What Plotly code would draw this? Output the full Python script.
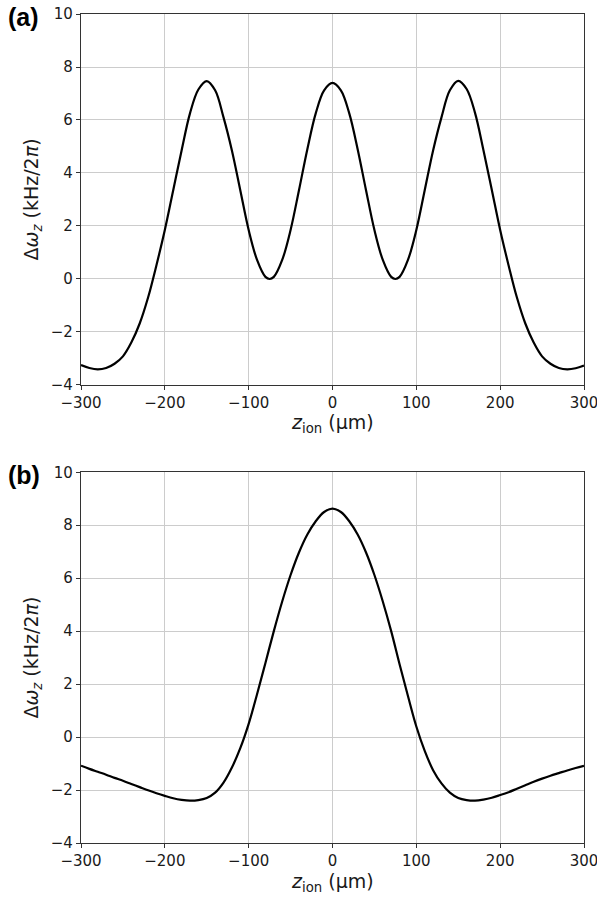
import plotly.graph_objects as go

# Axial frequency shift versus ion position, two electrode configurations
z_a = [
    -300, -290, -280, -270, -260, -250, -240, -230, -220, -210,
    -200, -190, -180, -170, -160, -150, -140, -130, -120, -110,
    -100, -90, -80, -75, -70, -60, -50, -40, -30, -20, -10,
    0,
    10, 20, 30, 40, 50, 60, 70, 75, 80, 90, 100,
    110, 120, 130, 140, 150, 160, 170, 180, 190, 200,
    210, 220, 230, 240, 250, 260, 270, 280, 290, 300,
]
shift_a = [
    -3.25, -3.36, -3.41, -3.36, -3.20, -2.92, -2.40, -1.68, -0.70, 0.52,
    1.85, 3.35, 4.85, 6.25, 7.15, 7.47, 7.12, 6.10, 4.85, 3.35,
    1.85, 0.72, 0.08, 0.0, 0.08, 0.72, 1.85, 3.35, 4.90, 6.25, 7.12,
    7.40,
    7.12, 6.25, 4.90, 3.35, 1.85, 0.72, 0.08, 0.0, 0.08, 0.72, 1.85,
    3.35, 4.85, 6.10, 7.12, 7.48, 7.17, 6.27, 4.87, 3.37, 1.85,
    0.52, -0.70, -1.68, -2.40, -2.92, -3.20, -3.36, -3.41, -3.37, -3.27,
]

z_b = list(range(-300, 301, 10))
shift_b = [
    -1.08, -1.20, -1.31, -1.42, -1.54, -1.65, -1.77, -1.89, -2.01, -2.12,
    -2.22, -2.31, -2.37, -2.40, -2.38, -2.30, -2.10, -1.72, -1.15, -0.42,
    0.50, 1.62, 2.80, 4.00, 5.12, 6.12, 6.97, 7.65, 8.15, 8.50,
    8.63,
    8.50, 8.15, 7.65, 6.97, 6.12, 5.12, 4.00, 2.75, 1.55, 0.40,
    -0.52, -1.25, -1.75, -2.10, -2.30, -2.38, -2.40, -2.36, -2.29, -2.19,
    -2.08, -1.95, -1.82, -1.69, -1.57, -1.46, -1.36, -1.26, -1.17, -1.09,
]

x_ticks = [-300, -200, -100, 0, 100, 200, 300]
x_tick_text = ["\u2212300", "\u2212200", "\u2212100", "0", "100", "200", "300"]
y_ticks = [-4, -2, 0, 2, 4, 6, 8, 10]
y_tick_text = ["\u22124", "\u22122", "0", "2", "4", "6", "8", "10"]

panel_labels = ["(a)", "(b)"]
x_title = "<i>z</i><sub>ion</sub> (\u03bcm)"
y_title = "\u0394<i>\u03c9</i><sub><i>z</i></sub> (kHz/2<i>\u03c0</i>)"

W, H = 597, 899
ML, MR, MT, MB = 81, 13, 14, 56

fig = go.Figure()
fig.add_trace(go.Scatter(x=z_a, y=shift_a, mode="lines", xaxis="x", yaxis="y",
                         line=dict(color="black", width=2.2, shape="spline", smoothing=1.0),
                         showlegend=False, hoverinfo="skip"))
fig.add_trace(go.Scatter(x=z_b, y=shift_b, mode="lines", xaxis="x2", yaxis="y2",
                         line=dict(color="black", width=2.2, shape="spline", smoothing=1.0),
                         showlegend=False, hoverinfo="skip"))

tick_font = dict(family="DejaVu Sans", size=15, color="#1a1a1a")
common_x = dict(range=[-300, 300], tickmode="array", tickvals=x_ticks, ticktext=x_tick_text,
                showgrid=True, gridcolor="#cccccc", gridwidth=1, zeroline=False,
                showline=True, linecolor="#333333", linewidth=1.2, mirror=True,
                ticks="outside", ticklen=4, tickcolor="#333333", tickfont=tick_font,
                ticklabeloverflow="allow", automargin=False)
common_y = dict(range=[-4, 10], tickmode="array", tickvals=y_ticks, ticktext=y_tick_text,
                showgrid=True, gridcolor="#cccccc", gridwidth=1, zeroline=False,
                showline=True, linecolor="#333333", linewidth=1.2, mirror=True,
                ticks="outside", ticklen=4, tickcolor="#333333", tickfont=tick_font,
                automargin=False)

top_lo = 0.5525
bot_hi = 0.4472

fig.update_layout(
    width=W, height=H,
    margin=dict(l=ML, r=MR, t=MT, b=MB, autoexpand=False),
    paper_bgcolor="white", plot_bgcolor="white",
    xaxis=dict(domain=[0, 1], anchor="y", **common_x),
    yaxis=dict(domain=[top_lo, 1], anchor="x", **common_y),
    xaxis2=dict(domain=[0, 1], anchor="y2", **common_x),
    yaxis2=dict(domain=[0, bot_hi], anchor="x2", **common_y),
)

title_font = dict(family="DejaVu Sans", size=19, color="#1a1a1a")
label_font = dict(family="Liberation Sans", size=25, color="black")

# panel geometry in paper fractions
panels = [(top_lo, 1.0), (0.0, bot_hi)]
for (lo, hi), lab in zip(panels, panel_labels):
    # x-axis title below each panel
    fig.add_annotation(xref="paper", yref="paper", x=0.5, y=lo, yshift=-39,
                       text=x_title, showarrow=False, font=title_font,
                       xanchor="center", yanchor="middle")
    # y-axis title
    fig.add_annotation(xref="paper", yref="paper", x=-0.0955, y=(lo + hi) / 2,
                       text=y_title, showarrow=False, font=title_font, textangle=-90,
                       xanchor="center", yanchor="middle")
    # panel letter
    fig.add_annotation(xref="paper", yref="paper", x=-0.1134, y=hi, yshift=-3,
                       text="<b>" + lab + "</b>", showarrow=False, font=label_font,
                       xanchor="center", yanchor="middle")

fig.write_html("out.html")
